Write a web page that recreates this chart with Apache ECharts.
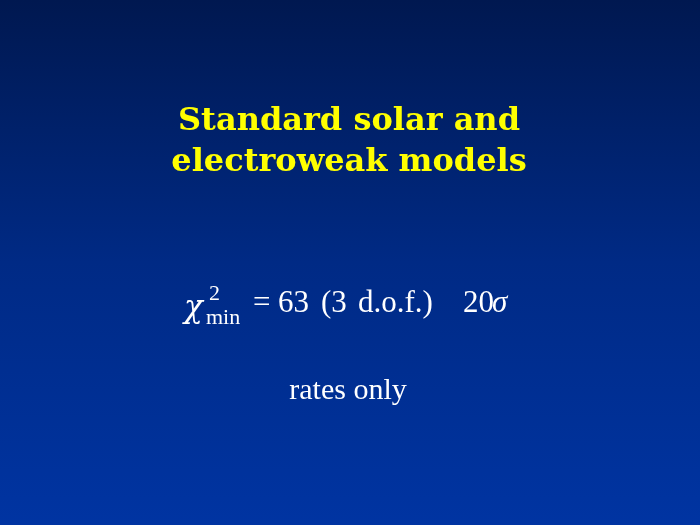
<!DOCTYPE html>
<html>
<head>
<meta charset="utf-8">
<script src="https://cdn.jsdelivr.net/npm/echarts@6/dist/echarts.min.js"></script>
<style>
  html, body { margin: 0; padding: 0; }
  #main { width: 700px; height: 525px; }
</style>
</head>
<body>
<div id="main"></div>
<script>
// slide text
const titleLines = ['Standard solar and', 'electroweak models']
const chiSymbol = 'χ'
const chiSup = '2'
const chiSub = 'min'
const formulaParts = ['=', '63', '(3', 'd.o.f.)', '20', 'σ']
const noteText = 'rates only'

const chart = echarts.init(document.getElementById('main'))

const serif = '"Liberation Serif", "DejaVu Serif", serif'

function txt(text, x, y, size, opts) {
  opts = opts || {}
  return {
    type: 'text',
    x: x,
    y: y,
    style: {
      text: text,
      fill: opts.fill || '#ffffff',
      font: (opts.style || 'normal') + ' ' + (opts.weight || 'normal') + ' ' + size + 'px ' + (opts.family || serif),
      align: opts.align || 'left',
      verticalAlign: 'middle'
    }
  }
}

let graphics = []

// background
graphics.push({
  type: 'rect',
  shape: { x: 0, y: 0, width: 700, height: 525 },
  style: {
    fill: new echarts.graphic.LinearGradient(0, 0, 0, 1, [
      { offset: 0, color: '#001850' },
      { offset: 0.5, color: '#002a85' },
      { offset: 1, color: '#0034a2' }
    ])
  },
  silent: true
})

// title
titleLines.forEach((line, i) => {
  graphics.push(txt(line, 349, 122 + i * 41, 32, {
    fill: '#ffff00', weight: 'bold', family: '"DejaVu Serif", serif', align: 'center'
  }))
})

// formula
graphics.push(txt(chiSymbol, 184, 309, 31, { style: 'italic', family: '"DejaVu Serif", serif' }))
graphics.push(txt(chiSup, 209, 294, 22))
graphics.push(txt(chiSub, 206, 318, 22))
let xs = [253, 278, 321, 358, 463, 492]
formulaParts.forEach((p, i) => {
  graphics.push(txt(p, xs[i], 304, 31, i == 5 ? { style: 'italic' } : {}))
})

// note
graphics.push(txt(noteText, 348, 391, 30, { align: 'center' }))

chart.setOption({
  animation: false,
  graphic: graphics
})
</script>
</body>
</html>
